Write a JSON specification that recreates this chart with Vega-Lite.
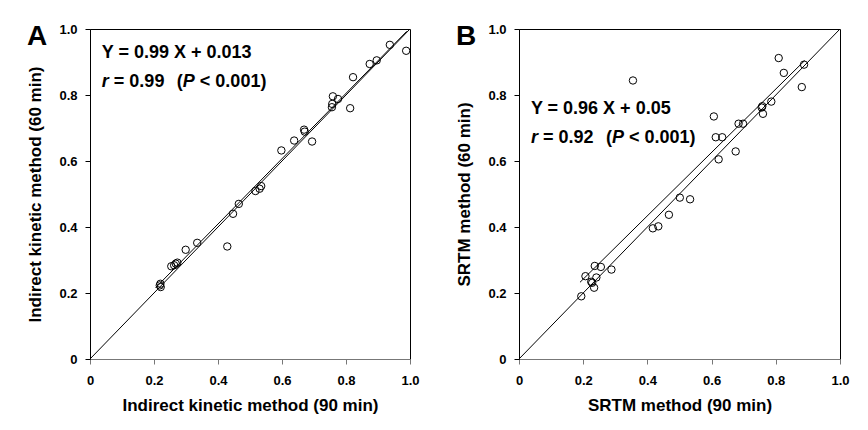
{
  "$schema": "https://vega.github.io/schema/vega-lite/v6.json",
  "background": "white",
  "padding": {"left": 26, "top": 22, "right": 5, "bottom": 5},
  "bounds": "flush",
  "spacing": 109,
  "config": {
    "font": "Liberation Sans",
    "view": {"stroke": "black", "strokeWidth": 1},
    "axis": {
      "labelFont": "Liberation Sans", "labelFontSize": 13, "labelFontWeight": "bold", "labelColor": "black",
      "titleFont": "Liberation Sans", "titleFontSize": 17, "titleFontWeight": "bold", "titleColor": "black",
      "grid": false, "tickColor": "black", "domainColor": "black", "tickSize": 5, "labelFlush": false,
      "labelExpr": "datum.value === 0 ? '0' : format(datum.value, '.1f')"
    },
    "axisX": {"labelPadding": 10, "titlePadding": 10, "domainColor": "#777777", "tickColor": "#777777"},
    "axisY": {"labelPadding": 8, "titlePadding": 14},
    "title": {"fontSize": 28, "fontWeight": "bold", "font": "Liberation Sans", "anchor": "start", "frame": "bounds", "baseline": "top", "offset": -28, "color": "black"},
    "text": {"font": "Liberation Sans", "fontSize": 18, "fontWeight": "bold", "align": "left", "baseline": "alphabetic", "color": "black"}
  },
  "datasets": {
    "ident": [{"x": 0, "y": 0}, {"x": 1, "y": 1}],
    "fitA": [{"x": 0.205, "y": 0.216}, {"x": 0.99, "y": 0.993}],
    "fitB": [{"x": 0.19, "y": 0.2324}, {"x": 0.89, "y": 0.9044}],
    "ptsA": [
      {"x": 0.988, "y": 0.934}, {"x": 0.937, "y": 0.952}, {"x": 0.896, "y": 0.905}, {"x": 0.874, "y": 0.894},
      {"x": 0.822, "y": 0.854}, {"x": 0.813, "y": 0.760}, {"x": 0.759, "y": 0.796}, {"x": 0.775, "y": 0.788},
      {"x": 0.757, "y": 0.773}, {"x": 0.756, "y": 0.763}, {"x": 0.669, "y": 0.695}, {"x": 0.671, "y": 0.689},
      {"x": 0.638, "y": 0.662}, {"x": 0.694, "y": 0.659}, {"x": 0.598, "y": 0.632}, {"x": 0.535, "y": 0.524},
      {"x": 0.530, "y": 0.516}, {"x": 0.517, "y": 0.509}, {"x": 0.465, "y": 0.470}, {"x": 0.447, "y": 0.440},
      {"x": 0.429, "y": 0.341}, {"x": 0.335, "y": 0.352}, {"x": 0.299, "y": 0.331}, {"x": 0.268, "y": 0.289},
      {"x": 0.273, "y": 0.292}, {"x": 0.254, "y": 0.281}, {"x": 0.263, "y": 0.284}, {"x": 0.218, "y": 0.223},
      {"x": 0.221, "y": 0.218}, {"x": 0.220, "y": 0.228}
    ],
    "ptsB": [
      {"x": 0.355, "y": 0.844}, {"x": 0.809, "y": 0.912}, {"x": 0.825, "y": 0.867}, {"x": 0.888, "y": 0.892},
      {"x": 0.881, "y": 0.824}, {"x": 0.786, "y": 0.780}, {"x": 0.758, "y": 0.766}, {"x": 0.756, "y": 0.762},
      {"x": 0.760, "y": 0.743}, {"x": 0.607, "y": 0.735}, {"x": 0.684, "y": 0.713}, {"x": 0.698, "y": 0.713},
      {"x": 0.613, "y": 0.672}, {"x": 0.633, "y": 0.672}, {"x": 0.675, "y": 0.629}, {"x": 0.622, "y": 0.605},
      {"x": 0.501, "y": 0.489}, {"x": 0.533, "y": 0.484}, {"x": 0.467, "y": 0.437}, {"x": 0.434, "y": 0.402},
      {"x": 0.417, "y": 0.396}, {"x": 0.288, "y": 0.271}, {"x": 0.255, "y": 0.279}, {"x": 0.236, "y": 0.282},
      {"x": 0.207, "y": 0.251}, {"x": 0.241, "y": 0.247}, {"x": 0.225, "y": 0.234}, {"x": 0.228, "y": 0.231},
      {"x": 0.234, "y": 0.216}, {"x": 0.194, "y": 0.190}
    ],
    "notesA": [{"line1": "Y = 0.99 X + 0.013", "r": "r", "eq": "= 0.99", "open": "(", "p": "P", "rest": "< 0.001)"}],
    "notesB": [{"line1": "Y = 0.96 X + 0.05", "r": "r", "eq": "= 0.92", "open": "(", "p": "P", "rest": "< 0.001)"}]
  },
  "hconcat": [
    {
      "width": 320, "height": 330,
      "title": {"text": "A"},
      "layer": [
        {"data": {"name": "ident"}, "mark": {"type": "line", "color": "black", "strokeWidth": 1},
         "encoding": {
           "x": {"field": "x", "type": "quantitative", "scale": {"domain": [0, 1], "nice": false}, "axis": {"title": "Indirect kinetic method (90 min)", "values": [0, 0.2, 0.4, 0.6, 0.8, 1]}},
           "y": {"field": "y", "type": "quantitative", "scale": {"domain": [0, 1], "nice": false}, "axis": {"title": "Indirect kinetic method (60 min)", "values": [0, 0.2, 0.4, 0.6, 0.8, 1]}}
         }},
        {"data": {"name": "fitA"}, "mark": {"type": "line", "color": "black", "strokeWidth": 1},
         "encoding": {"x": {"field": "x", "type": "quantitative"}, "y": {"field": "y", "type": "quantitative"}}},
        {"data": {"name": "ptsA"}, "mark": {"type": "point", "shape": "circle", "filled": false, "color": "black", "size": 55, "strokeWidth": 1, "opacity": 1},
         "encoding": {"x": {"field": "x", "type": "quantitative"}, "y": {"field": "y", "type": "quantitative"}}},
        {"data": {"name": "notesA"},
         "encoding": {"x": {"datum": 0.037, "type": "quantitative"}},
         "layer": [
           {"mark": {"type": "text"}, "encoding": {"y": {"datum": 0.912, "type": "quantitative"}, "text": {"field": "line1"}}},
           {"mark": {"type": "text", "fontStyle": "italic"}, "encoding": {"y": {"datum": 0.825, "type": "quantitative"}, "text": {"field": "r"}}},
           {"mark": {"type": "text", "dx": 12}, "encoding": {"y": {"datum": 0.825, "type": "quantitative"}, "text": {"field": "eq"}}},
           {"mark": {"type": "text", "dx": 75}, "encoding": {"y": {"datum": 0.825, "type": "quantitative"}, "text": {"field": "open"}}},
           {"mark": {"type": "text", "fontStyle": "italic", "dx": 81}, "encoding": {"y": {"datum": 0.825, "type": "quantitative"}, "text": {"field": "p"}}},
           {"mark": {"type": "text", "dx": 98}, "encoding": {"y": {"datum": 0.825, "type": "quantitative"}, "text": {"field": "rest"}}}
         ]}
      ]
    },
    {
      "width": 321, "height": 330,
      "title": {"text": "B"},
      "layer": [
        {"data": {"name": "ident"}, "mark": {"type": "line", "color": "black", "strokeWidth": 1},
         "encoding": {
           "x": {"field": "x", "type": "quantitative", "scale": {"domain": [0, 1], "nice": false}, "axis": {"title": "SRTM method (90 min)", "values": [0, 0.2, 0.4, 0.6, 0.8, 1]}},
           "y": {"field": "y", "type": "quantitative", "scale": {"domain": [0, 1], "nice": false}, "axis": {"title": "SRTM method (60 min)", "values": [0, 0.2, 0.4, 0.6, 0.8, 1]}}
         }},
        {"data": {"name": "fitB"}, "mark": {"type": "line", "color": "black", "strokeWidth": 1},
         "encoding": {"x": {"field": "x", "type": "quantitative"}, "y": {"field": "y", "type": "quantitative"}}},
        {"data": {"name": "ptsB"}, "mark": {"type": "point", "shape": "circle", "filled": false, "color": "black", "size": 55, "strokeWidth": 1, "opacity": 1},
         "encoding": {"x": {"field": "x", "type": "quantitative"}, "y": {"field": "y", "type": "quantitative"}}},
        {"data": {"name": "notesB"},
         "encoding": {"x": {"datum": 0.037, "type": "quantitative"}},
         "layer": [
           {"mark": {"type": "text"}, "encoding": {"y": {"datum": 0.743, "type": "quantitative"}, "text": {"field": "line1"}}},
           {"mark": {"type": "text", "fontStyle": "italic"}, "encoding": {"y": {"datum": 0.655, "type": "quantitative"}, "text": {"field": "r"}}},
           {"mark": {"type": "text", "dx": 12}, "encoding": {"y": {"datum": 0.655, "type": "quantitative"}, "text": {"field": "eq"}}},
           {"mark": {"type": "text", "dx": 75}, "encoding": {"y": {"datum": 0.655, "type": "quantitative"}, "text": {"field": "open"}}},
           {"mark": {"type": "text", "fontStyle": "italic", "dx": 81}, "encoding": {"y": {"datum": 0.655, "type": "quantitative"}, "text": {"field": "p"}}},
           {"mark": {"type": "text", "dx": 98}, "encoding": {"y": {"datum": 0.655, "type": "quantitative"}, "text": {"field": "rest"}}}
         ]}
      ]
    }
  ]
}
